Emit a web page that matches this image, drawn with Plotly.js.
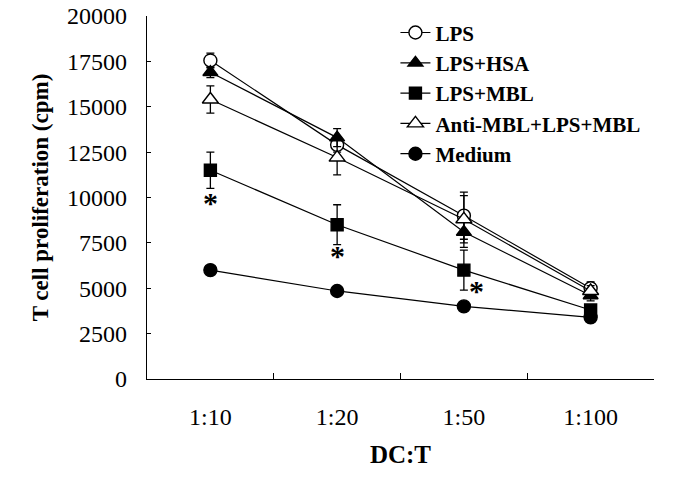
<!DOCTYPE html>
<html>
<head>
<meta charset="utf-8">
<script src="https://cdn.plot.ly/plotly-3.0.1.min.js"></script>
<style>html,body{margin:0;padding:0;background:#fff;}#chart{width:685px;height:480px;}</style>
</head>
<body>
<div id="chart"></div>
<script>
const categories = ["1:10", "1:20", "1:50", "1:100"];
const seriesNames = ["LPS", "LPS+HSA", "LPS+MBL", "Anti-MBL+LPS+MBL", "Medium"];
const lpsVals = [17550, 12900, 9000, 5000];
const lpsErr = [400, 400, 1300, 350];
const hsaVals = [16900, 13300, 8100, 4600];
const hsaErr = [300, 500, 850, 300];
const mblVals = [11500, 8500, 6000, 3800];
const mblErr = [1000, 1100, 1100, 200];
const antiVals = [15400, 12200, 8800, 4850];
const antiErr = [750, 950, 1300, 300];
const mediumVals = [6000, 4850, 4000, 3400];
const mediumErr = [150, 150, 150, 150];
const starCats = ["1:10", "1:20", "1:50"];
const starVals = [9700, 6800, 4900];

const valueLists = [lpsVals, hsaVals, mblVals, antiVals, mediumVals];
const errLists = [lpsErr, hsaErr, mblErr, antiErr, mediumErr];
const symbols = ["circle", "triangle-up", "square", "triangle-up", "circle"];
const fills = ["#ffffff", "#000000", "#000000", "#ffffff", "#000000"];
const sizes = [13, 13, 12, 14, 13];

const traces = seriesNames.map((name, i) => ({
  type: "scatter",
  mode: "lines+markers",
  name: name,
  x: categories,
  y: valueLists[i],
  line: {color: "#000", width: 1.2},
  marker: {symbol: symbols[i], size: sizes[i], color: fills[i], line: {color: "#000", width: 1.4}},
  error_y: {type: "data", array: errLists[i], visible: true, color: "#000", thickness: 1.3, width: 4}
}));

const serif = "Liberation Serif, Times New Roman, serif";
const layout = {
  width: 685, height: 480,
  margin: {l: 147, r: 31, t: 14, b: 101},
  paper_bgcolor: "#fff", plot_bgcolor: "#fff",
  showlegend: true,
  legend: {
    x: 0.49, y: 1.01, xanchor: "left", yanchor: "top",
    bgcolor: "rgba(0,0,0,0)",
    font: {family: serif, size: 21, color: "#000", weight: "bold"},
    tracegroupgap: 0
  },
  xaxis: {
    type: "category",
    range: [-0.5, 3.5],
    tickson: "boundaries",
    ticks: "inside", ticklen: 6, tickcolor: "#000", tickwidth: 1.2,
    showline: true, linecolor: "#000", linewidth: 1.2,
    showgrid: false, zeroline: false,
    ticklabelstandoff: 16,
    tickfont: {family: serif, size: 24, color: "#000"},
    title: {text: "DC:T", font: {family: serif, size: 25, color: "#000", weight: "bold"}, standoff: 16}
  },
  yaxis: {
    range: [0, 20000],
    dtick: 2500,
    tickformat: "d",
    ticks: "inside", ticklen: 4, tickcolor: "#000", tickwidth: 1.2,
    showline: true, linecolor: "#000", linewidth: 1.2,
    showgrid: false, zeroline: false,
    ticklabelstandoff: 14,
    tickfont: {family: serif, size: 24, color: "#000"},
    title: {text: "T cell proliferation (cpm)", font: {family: serif, size: 23, color: "#000", weight: "bold"}, standoff: 12}
  },
  annotations: starCats.map((c, i) => ({
    x: c, y: starVals[i], xref: "x", yref: "y",
    text: "*", showarrow: false,
    xshift: i === 2 ? 13 : 0,
    font: {family: serif, size: 30, color: "#000", weight: "bold"}
  }))
};

Plotly.newPlot("chart", traces, layout, {displayModeBar: false, staticPlot: true});
</script>
</body>
</html>
